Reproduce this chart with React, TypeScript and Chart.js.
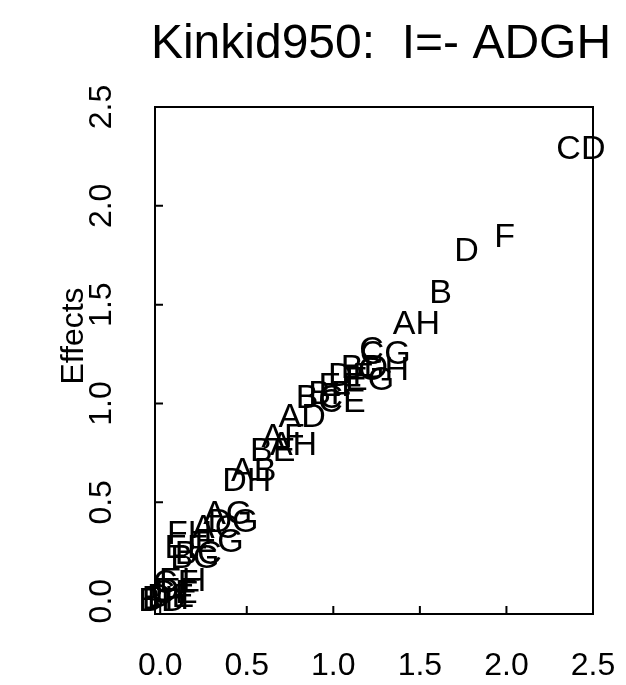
import React, { useEffect, useRef } from "react";
import { Chart, registerables } from "chart.js";

Chart.register(...registerables);

const TITLE = "Kinkid950:  I=- ADGH";
const Y_TITLE = "Effects";

const effectLabels = [
  "BD", "BH", "DE", "CE", "DF", "CF", "EH", "EF", "FH", "BG", "BC", "AC",
  "EG", "AG", "DG", "DH", "AB", "BE", "AF", "AH", "AD", "BC", "BF", "EF",
  "CE", "DF", "BD", "EG", "C", "CG", "GH", "AH", "B", "D", "F", "CD",
];
const halfNormalQuantiles = [
  0.01, 0.03, 0.06, 0.08, 0.1, 0.09, 0.13, 0.15, 0.17, 0.2, 0.22, 0.32,
  0.34, 0.39, 0.42, 0.5, 0.54, 0.65, 0.71, 0.77, 0.82, 0.92, 0.98, 1.04,
  1.05, 1.1, 1.18, 1.21, 1.22, 1.3, 1.29, 1.48, 1.62, 1.77, 1.99, 2.43,
];
const effectValues = [
  0.01, 0.02, 0.03, 0.05, 0.06, 0.1, 0.11, 0.28, 0.35, 0.23, 0.25, 0.38,
  0.31, 0.45, 0.41, 0.62, 0.67, 0.77, 0.84, 0.8, 0.94, 1.04, 1.06, 1.1,
  1.02, 1.15, 1.19, 1.13, 1.28, 1.26, 1.18, 1.41, 1.57, 1.78, 1.85, 2.3,
];

const xTicks = [0, 0.5, 1, 1.5, 2, 2.5];
const xTickLabels = ["0.0", "0.5", "1.0", "1.5", "2.0", "2.5"];
const yTicks = [0, 0.5, 1, 1.5, 2, 2.5];
const yTickLabels = ["0.0", "0.5", "1.0", "1.5", "2.0", "2.5"];

const FONT = "'Liberation Sans', Arial, Helvetica, sans-serif";

const textPlotPlugin = {
  id: "textPlot",
  afterDatasetsDraw(chart: any) {
    const ctx = chart.ctx;
    const meta = chart.getDatasetMeta(0);
    ctx.save();
    ctx.font = `34px ${FONT}`;
    ctx.fillStyle = "#000";
    ctx.textAlign = "center";
    ctx.textBaseline = "alphabetic";
    meta.data.forEach((el: any, i: number) => {
      ctx.fillText(effectLabels[i], el.x, el.y + 12);
    });
    ctx.restore();
  },
  afterDraw(chart: any) {
    const ctx = chart.ctx;
    const { left, right, top, bottom } = chart.chartArea;
    const xs = chart.scales.x;
    const ys = chart.scales.y;
    ctx.save();
    ctx.strokeStyle = "#000";
    ctx.lineWidth = 2;
    ctx.strokeRect(left, top, right - left, bottom - top);
    ctx.beginPath();
    xTicks.forEach((v) => {
      const px = xs.getPixelForValue(v);
      if (px > left + 2 && px < right - 2) {
        ctx.moveTo(px, bottom);
        ctx.lineTo(px, bottom - 8);
      }
    });
    yTicks.forEach((v) => {
      const py = ys.getPixelForValue(v);
      if (py > top + 2 && py < bottom - 2) {
        ctx.moveTo(left, py);
        ctx.lineTo(left + 8, py);
      }
    });
    ctx.stroke();

    ctx.fillStyle = "#000";
    ctx.font = `32px ${FONT}`;
    ctx.textAlign = "center";
    ctx.textBaseline = "alphabetic";
    xTicks.forEach((v, i) => {
      ctx.fillText(xTickLabels[i], xs.getPixelForValue(v), 675);
    });
    yTicks.forEach((v, i) => {
      ctx.save();
      ctx.translate(111, ys.getPixelForValue(v));
      ctx.rotate(-Math.PI / 2);
      ctx.fillText(yTickLabels[i], 0, 0);
      ctx.restore();
    });
    ctx.save();
    ctx.translate(83, 336);
    ctx.rotate(-Math.PI / 2);
    ctx.fillText(Y_TITLE, 0, 0);
    ctx.restore();

    ctx.font = `48px ${FONT}`;
    ctx.fillText(TITLE, 381, 58);
    ctx.restore();
  },
};

export default function App() {
  const ref = useRef<HTMLCanvasElement | null>(null);
  useEffect(() => {
    if (!ref.current) return;
    const chart = new Chart(ref.current, {
      type: "scatter",
      data: {
        datasets: [
          {
            data: effectValues.map((y, i) => ({ x: halfNormalQuantiles[i], y })),
            pointRadius: 0,
            pointHoverRadius: 0,
            showLine: false,
          },
        ],
      },
      options: {
        responsive: false,
        animation: false,
        devicePixelRatio: 1,
        events: [],
        layout: { padding: { left: 155, top: 107, right: 33, bottom: 71 } },
        scales: {
          x: { type: "linear", min: -0.03, max: 2.5, display: false },
          y: { type: "linear", min: -0.065, max: 2.5, display: false },
        },
        plugins: {
          legend: { display: false },
          tooltip: { enabled: false },
          title: { display: false },
        },
      },
      plugins: [textPlotPlugin],
    } as any);
    return () => chart.destroy();
  }, []);
  return (
    <div style={{ position: "absolute", left: 0, top: 0, width: 626, height: 685, background: "#fff" }}>
      <canvas ref={ref} width={626} height={685} style={{ display: "block", width: 626, height: 685 }} />
    </div>
  );
}
